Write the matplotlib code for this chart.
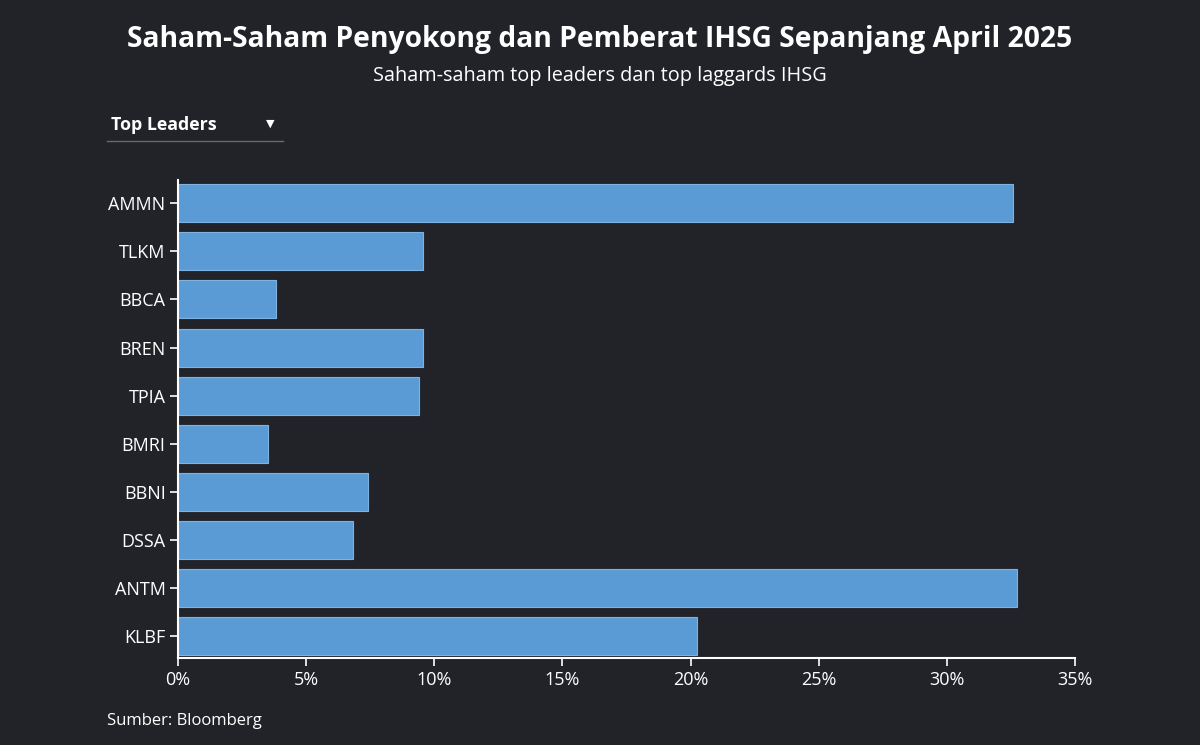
import matplotlib.pyplot as plt
from matplotlib.ticker import FuncFormatter

tickers = ["AMMN", "TLKM", "BBCA", "BREN", "TPIA", "BMRI", "BBNI", "DSSA", "ANTM", "KLBF"]
values = [32.58, 9.56, 3.82, 9.56, 9.40, 3.51, 7.41, 6.83, 32.73, 20.25]

bg = "#212329"
bar_color = "#5b9bd5"
fg = "#ffffff"

plt.rcParams['font.family'] = ['Open Sans', 'DejaVu Sans']

fig = plt.figure(figsize=(12, 7.45), dpi=100, facecolor=bg)
ax = fig.add_axes([178/1200, 1 - 658/745, (1075-178)/1200, (658-180)/745])
ax.set_facecolor(bg)

pos = list(range(len(tickers)))
ax.barh(pos, values, height=0.79, color=bar_color, edgecolor="#7fb2e0", linewidth=0.8)

ax.set_xlim(0, 35)
ax.set_ylim(9.45, -0.48)
ax.set_yticks(pos)
ax.set_yticklabels(tickers)
ax.set_xticks([0, 5, 10, 15, 20, 25, 30, 35])
ax.xaxis.set_major_formatter(FuncFormatter(lambda v, p: f"{v:.0f}%"))

for s in ["top", "right"]:
    ax.spines[s].set_visible(False)
for s in ["left", "bottom"]:
    ax.spines[s].set_color(fg)
    ax.spines[s].set_linewidth(1.5)
ax.tick_params(colors=fg, labelsize=13, length=6, width=1.2)
ax.tick_params(axis="y", pad=3)

fig.text(0.5, 1 - 40/745, "Saham-Saham Penyokong dan Pemberat IHSG Sepanjang April 2025",
         ha="center", va="center", color=fg, fontsize=20.3, fontweight="bold")
fig.text(0.5, 1 - 76/745, "Saham-saham top leaders dan top laggards IHSG",
         ha="center", va="center", color=fg, fontsize=14.3)

# dropdown
fig.text(111/1200, 1 - 125/745, "Top Leaders", ha="left", va="center",
         color=fg, fontsize=12.8, fontweight="bold")
fig.text(270/1200, 1 - 124/745, "▼", ha="center", va="center", color=fg, fontsize=8,
         family=['DejaVu Sans'], transform=fig.transFigure)
fig.add_artist(plt.Line2D([107/1200, 283/1200], [1 - 141/745, 1 - 141/745],
                          color="#666a70", linewidth=1))

fig.text(107/1200, 1 - 721/745, "Sumber: Bloomberg", ha="left", va="center",
         color=fg, fontsize=12)

fig.savefig("out.png", dpi=100, facecolor=bg)
